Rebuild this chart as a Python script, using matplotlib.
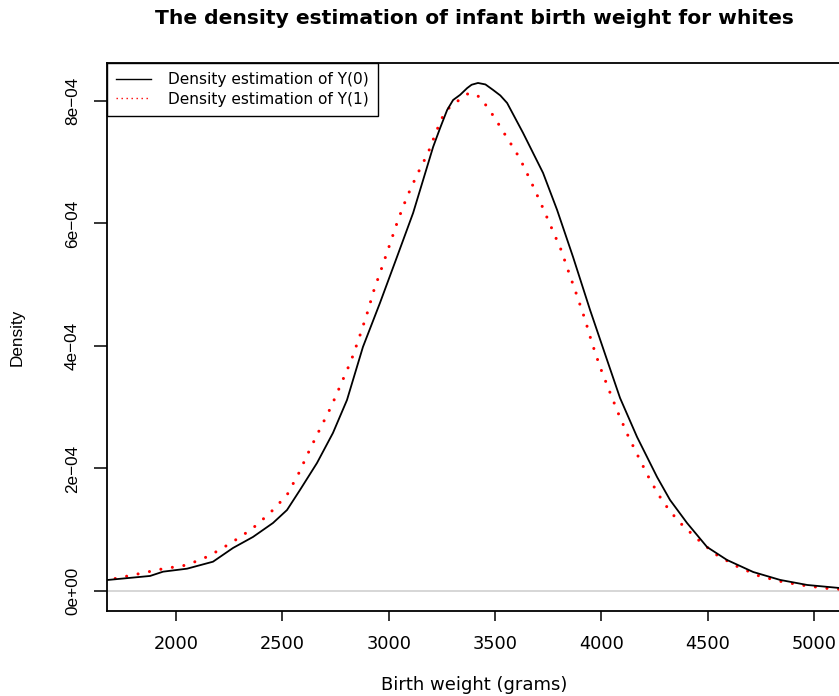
import matplotlib
matplotlib.use("Agg")
import matplotlib.pyplot as plt
from matplotlib.lines import Line2D

plt.rcParams["font.family"] = ["DejaVu Sans"]

# density estimate of Y(0)
y0_x = [1660, 1680, 1878, 1939, 2052, 2174, 2268, 2362, 2456, 2522, 2583, 2663,
        2738, 2804, 2879, 2959, 3039, 3115, 3162, 3209, 3242, 3275, 3303, 3336,
        3369, 3390, 3420, 3455, 3491, 3525, 3557, 3632, 3726, 3792, 3867, 3947,
        4027, 4088, 4168, 4262, 4323, 4403, 4497, 4591, 4714, 4841, 4968, 5118,
        5160]
y0_d = [1.75e-5, 1.80e-5, 2.45e-5, 3.15e-5, 3.64e-5, 4.78e-5, 7.02e-5, 8.82e-5,
        1.110e-4, 1.322e-4, 1.649e-4, 2.090e-4, 2.580e-4, 3.118e-4, 3.984e-4,
        4.702e-4, 5.453e-4, 6.172e-4, 6.710e-4, 7.249e-4, 7.559e-4, 7.853e-4,
        8.016e-4, 8.100e-4, 8.210e-4, 8.265e-4, 8.294e-4, 8.270e-4, 8.180e-4,
        8.090e-4, 7.967e-4, 7.478e-4, 6.825e-4, 6.221e-4, 5.453e-4, 4.588e-4,
        3.771e-4, 3.151e-4, 2.514e-4, 1.861e-4, 1.486e-4, 1.110e-4, 7.18e-5,
        5.06e-5, 3.10e-5, 1.80e-5, 9.8e-6, 4.9e-6, 4.0e-6]

# density estimate of Y(1)
y1_x = [1660, 1704, 1821, 1934, 2052, 2155, 2259, 2357, 2442, 2522, 2578, 2626,
        2677, 2729, 2776, 2823, 2861, 2898, 2931, 2969, 3006, 3044, 3086, 3133,
        3185, 3227, 3251, 3284, 3331, 3378, 3430, 3463, 3496, 3528, 3557, 3590,
        3618, 3670, 3717, 3764, 3811, 3848, 3886, 3924, 3956, 3994, 4036, 4079,
        4126, 4177, 4229, 4290, 4361, 4446, 4535, 4634, 4742, 4855, 4968, 5085,
        5160]
y1_d = [1.75e-5, 1.96e-5, 2.78e-5, 3.59e-5, 4.24e-5, 5.71e-5, 7.84e-5, 1.012e-4,
        1.273e-4, 1.567e-4, 1.927e-4, 2.286e-4, 2.645e-4, 3.004e-4, 3.380e-4,
        3.755e-4, 4.131e-4, 4.523e-4, 4.914e-4, 5.290e-4, 5.665e-4, 6.057e-4,
        6.433e-4, 6.792e-4, 7.151e-4, 7.527e-4, 7.723e-4, 7.886e-4, 8.016e-4,
        8.131e-4, 8.065e-4, 7.902e-4, 7.739e-4, 7.559e-4, 7.396e-4, 7.216e-4,
        7.053e-4, 6.678e-4, 6.318e-4, 5.943e-4, 5.567e-4, 5.192e-4, 4.816e-4,
        4.425e-4, 4.049e-4, 3.657e-4, 3.282e-4, 2.906e-4, 2.531e-4, 2.171e-4,
        1.812e-4, 1.453e-4, 1.143e-4, 8.65e-5, 6.04e-5, 4.08e-5, 2.45e-5,
        1.47e-5, 8.2e-6, 3.3e-6, 2.5e-6]

x_ticks = [2000, 2500, 3000, 3500, 4000, 4500, 5000]
y_ticks = [0, 2e-4, 4e-4, 6e-4, 8e-4]
y_tick_labels = ["0e+00", "2e\u221204", "4e\u221204", "6e\u221204", "8e\u221204"]

W, H = 839, 696
fig = plt.figure(figsize=(W / 100, H / 100), dpi=100)
ax = fig.add_axes([107 / W, (H - 611) / H, (841 - 107) / W, (611 - 63) / H])

ax.axhline(0, color="#d3d3d3", lw=1.3, zorder=1)
ax.plot(y0_x, y0_d, color="black", lw=1.3, zorder=3)
ax.plot(y1_x, y1_d, color="red", lw=2.2, linestyle=(0, (0.01, 3.8)),
        dash_capstyle="round", zorder=2)

ax.set_xlim(1675.5, 5127)
ax.set_ylim(-3.27e-5, 8.62e-4)

ax.set_xticks(x_ticks)
ax.set_xticklabels([str(v) for v in x_ticks], fontsize=12.8)
ax.set_yticks(y_ticks)
ax.set_yticklabels(y_tick_labels, rotation=90, va="center",
                   family="Liberation Sans", fontsize=12.3)
ax.tick_params(axis="x", length=7.5, width=1.1, pad=10)
ax.tick_params(axis="y", length=9.5, width=1.1, pad=10)

for side in ["left", "bottom", "top"]:
    ax.spines[side].set_linewidth(1.3)
ax.spines["right"].set_visible(False)

ax.set_title("The density estimation of infant birth weight for whites",
             fontsize=14.6, fontweight="bold", pad=28)
ax.set_xlabel("Birth weight (grams)", fontsize=13, labelpad=16)
ax.set_ylabel("Density", family="Liberation Sans", fontsize=12.3, labelpad=29)

handles = [Line2D([], [], color="black", lw=1),
           Line2D([], [], color="red", lw=1, linestyle=(0, (1, 2.6)))]
leg = ax.legend(handles, ["Density estimation of Y(0)", "Density estimation of Y(1)"],
                loc="upper left", bbox_to_anchor=(0, 1), borderaxespad=0,
                fancybox=False, edgecolor="black", framealpha=1, fontsize=11.1,
                handlelength=2.25, handletextpad=1.1, labelspacing=0.3,
                borderpad=0.6)
leg.get_frame().set_linewidth(1.0)

fig.savefig("out.png", dpi=100)
